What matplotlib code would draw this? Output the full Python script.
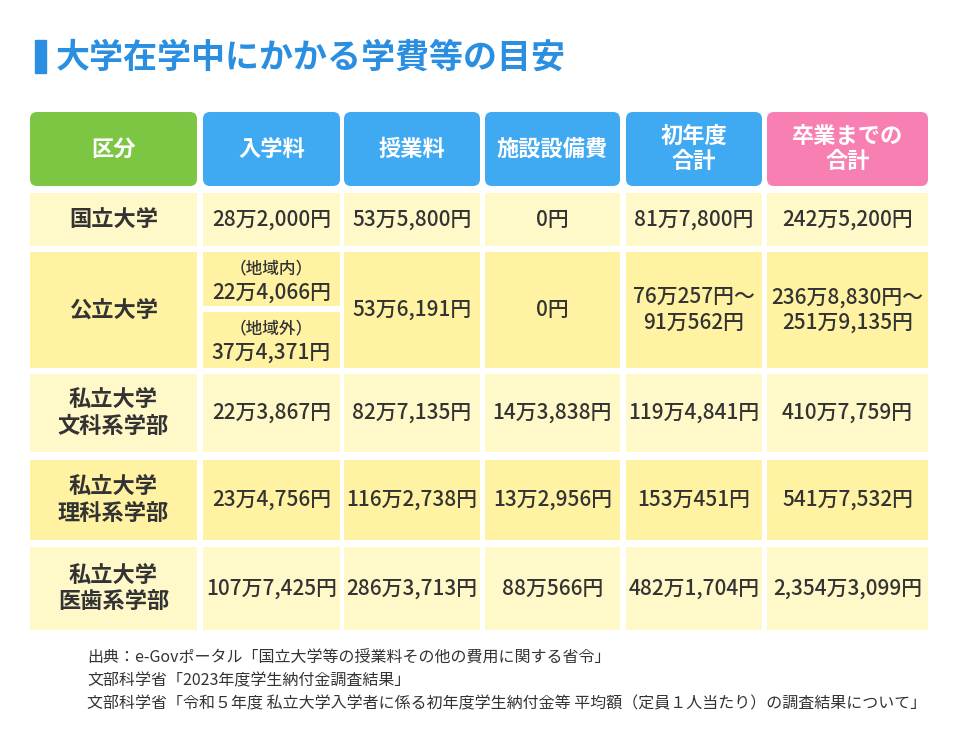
import matplotlib
matplotlib.use("Agg")
import matplotlib.pyplot as plt
from matplotlib.patches import FancyBboxPatch, Rectangle

plt.rcParams["font.family"] = "Noto Sans CJK JP"

title = "大学在学中にかかる学費等の目安"
headers = ["区分", "入学料", "授業料", "施設設備費", "初年度\n合計", "卒業までの\n合計"]
categories = ["国立大学", "公立大学", "私立大学\n文科系学部", "私立大学\n理科系学部", "私立大学\n医歯系学部"]
entrance = ["28万2,000円", None, "22万3,867円", "23万4,756円", "107万7,425円"]
public_entrance = ["（地域内）\n22万4,066円", "（地域外）\n37万4,371円"]
tuition = ["53万5,800円", "53万6,191円", "82万7,135円", "116万2,738円", "286万3,713円"]
facility = ["0円", "0円", "14万3,838円", "13万2,956円", "88万566円"]
first_year = ["81万7,800円", "76万257円〜\n91万562円", "119万4,841円", "153万451円", "482万1,704円"]
total = ["242万5,200円", "236万8,830円〜\n251万9,135円", "410万7,759円", "541万7,532円", "2,354万3,099円"]
notes = ["出典：e-Govポータル「国立大学等の授業料その他の費用に関する省令」",
         "文部科学省「2023年度学生納付金調査結果」",
         "文部科学省「令和５年度 私立大学入学者に係る初年度学生納付金等 平均額（定員１人当たり）の調査結果について」"]

fig = plt.figure(figsize=(9.6, 7.32), dpi=100)
ax = fig.add_axes([0, 0, 1, 1])
ax.set_xlim(0, 960); ax.set_ylim(732, 0); ax.axis("off")

TXT = "#333333"
cols = [(30, 197), (203, 340), (344, 480), (485, 620), (626, 762), (767, 928)]
head_y = (112, 186)
rows = [(193, 246), (252, 368), (374, 452), (460, 540), (547, 630)]
pale, yel = "#fff8c9", "#fff3a3"
hcolors = ["#7cc644", "#3fa9f2", "#3fa9f2", "#3fa9f2", "#3fa9f2", "#f77fb1"]

ax.add_patch(Rectangle((35, 40), 11, 33, color="#2a8fe0"))
ax.text(56, 57, title, fontsize=24.5, fontweight="bold", color="#2a8fe0", va="center", ha="left")

for (x0, x1), h, c in zip(cols, headers, hcolors):
    ax.add_patch(FancyBboxPatch((x0 + 4, head_y[0] + 4), x1 - x0 - 8, head_y[1] - head_y[0] - 8,
                                boxstyle="round,pad=4,rounding_size=7", color=c, lw=0))
    ax.text((x0 + x1) / 2, (head_y[0] + head_y[1]) / 2, h, fontsize=16, fontweight="bold",
            color="white", ha="center", va="center", linespacing=1.1)

cols_data = [categories, entrance, tuition, facility, first_year, total]
for i, (y0, y1) in enumerate(rows):
    bg = pale if i % 2 == 0 else yel
    for j, (x0, x1) in enumerate(cols):
        if j == 1 and i == 1:
            mid = 309
            for k, (a, b) in enumerate([(y0, mid - 3), (mid + 3, y1)]):
                ax.add_patch(Rectangle((x0, a), x1 - x0, b - a, color=bg, lw=0))
                top, val = public_entrance[k].split("\n")
                ax.text((x0 + x1) / 2, a + 16, top, fontsize=12, color=TXT, ha="center", va="center", fontweight="medium")
                ax.text((x0 + x1) / 2, a + 41, val, fontsize=15, color=TXT, ha="center", va="center", fontweight="medium")
            continue
        ax.add_patch(Rectangle((x0, y0), x1 - x0, y1 - y0, color=bg, lw=0))
        fs = 16 if j == 0 else 15
        fw = "bold" if j == 0 else "medium"
        ax.text((x0 + x1) / 2, (y0 + y1) / 2, cols_data[j][i], fontsize=fs, color=TXT,
                ha="center", va="center", fontweight=fw, linespacing=1.2)

for k, n in enumerate(notes):
    ax.text(87, 658 + 23 * k, n, fontsize=11.5, color=TXT, ha="left", va="center")

fig.savefig("out.png", dpi=100)
